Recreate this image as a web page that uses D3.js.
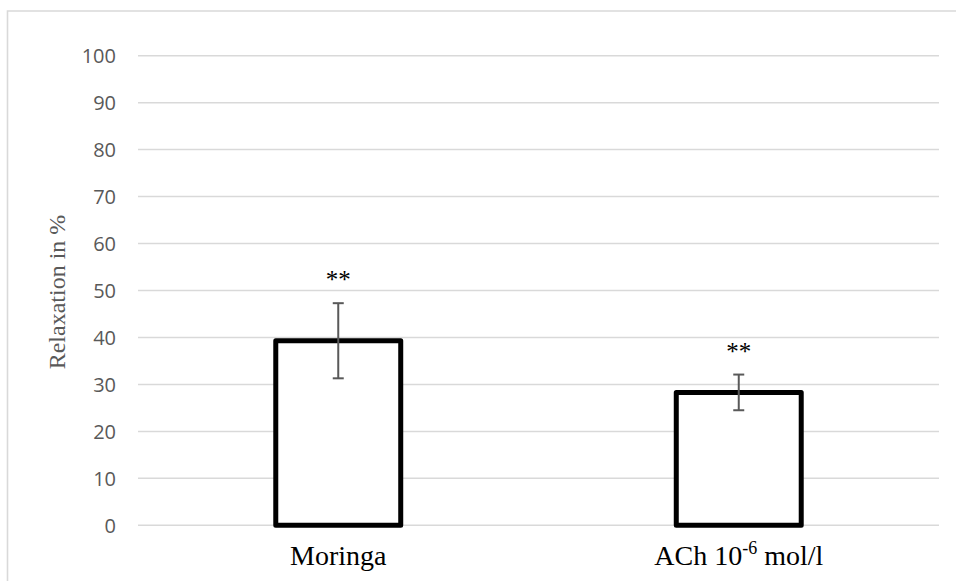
<!DOCTYPE html>
<html>
<head>
<meta charset="utf-8">
<script src="https://cdn.jsdelivr.net/npm/d3@7"></script>
<style>
  html, body { margin: 0; padding: 0; background: #fff; }
  svg { display: block; }
</style>
</head>
<body>
<svg id="chart" width="956" height="581"></svg>
<script>
// Relaxation response per treatment (mean ± error)
const categories = ["Moringa", "ACh"];
const relaxation = [39.3, 28.3];
const errors = [8.0, 3.8];
const significance = ["**", "**"];
const yTicks = [0, 10, 20, 30, 40, 50, 60, 70, 80, 90, 100];

const svg = d3.select("#chart");
const W = 956, H = 581;

const plot = { left: 138, right: 939, top: 55.7, bottom: 525.3 };

const x = d3.scaleBand()
  .domain(categories)
  .range([plot.left, plot.right])
  .paddingInner(0.688)
  .paddingOuter(0.344);

const y = d3.scaleLinear()
  .domain([0, 100])
  .range([plot.bottom, plot.top]);

// Outer frame (top and left edges visible)
svg.append("path")
  .attr("d", `M7.5,${H + 5} L7.5,11 L${W + 5},11`)
  .attr("fill", "none")
  .attr("stroke", "#d9d9d9")
  .attr("stroke-width", 1.6);

// Horizontal gridlines
svg.append("g")
  .selectAll("line")
  .data(yTicks)
  .join("line")
  .attr("x1", plot.left)
  .attr("x2", plot.right)
  .attr("y1", d => y(d))
  .attr("y2", d => y(d))
  .attr("stroke", "#d9d9d9")
  .attr("stroke-width", 1.5);

// Y axis labels
const yAxis = d3.axisLeft(y).tickValues(yTicks).tickSize(0).tickPadding(0);
const yg = svg.append("g")
  .attr("transform", `translate(116,0)`)
  .call(yAxis);
yg.select(".domain").remove();
yg.selectAll("text")
  .attr("font-family", "'Open Sans', sans-serif")
  .attr("font-size", 20)
  .attr("fill", "#595959")
  .attr("dy", "0.35em");

// Y axis title
svg.append("text")
  .attr("transform", `translate(65,292) rotate(-90)`)
  .attr("text-anchor", "middle")
  .attr("font-family", "'Liberation Serif', 'Times New Roman', serif")
  .attr("font-size", 24)
  .attr("fill", "#595959")
  .text("Relaxation in %");

// Bars
const barW = x.bandwidth();
svg.append("g")
  .selectAll("rect")
  .data(categories)
  .join("rect")
  .attr("x", d => x(d))
  .attr("y", (d, i) => y(relaxation[i]))
  .attr("width", barW)
  .attr("height", (d, i) => y(0) - y(relaxation[i]))
  .attr("fill", "#fff")
  .attr("stroke", "#000")
  .attr("stroke-width", 5)
  .attr("stroke-linejoin", "round");

// Error bars
const eg = svg.append("g")
  .attr("stroke", "#595959")
  .attr("stroke-width", 2);
categories.forEach((c, i) => {
  const cx = x(c) + barW / 2;
  const hi = y(relaxation[i] + errors[i]);
  const lo = y(relaxation[i] - errors[i]);
  eg.append("line").attr("x1", cx).attr("x2", cx).attr("y1", hi).attr("y2", lo);
  eg.append("line").attr("x1", cx - 5.5).attr("x2", cx + 5.5).attr("y1", hi).attr("y2", hi);
  eg.append("line").attr("x1", cx - 5.5).attr("x2", cx + 5.5).attr("y1", lo).attr("y2", lo);
});

// Significance markers
svg.append("g")
  .selectAll("text")
  .data(categories)
  .join("text")
  .attr("x", d => x(d) + barW / 2)
  .attr("y", (d, i) => y(relaxation[i] + errors[i]) - 15)
  .attr("text-anchor", "middle")
  .attr("font-family", "'Liberation Serif', 'Times New Roman', serif")
  .attr("font-size", 25)
  .attr("fill", "#000")
  .text((d, i) => significance[i]);

// Category labels
const serif = "'Liberation Serif', 'Times New Roman', serif";
const lab = svg.append("g")
  .attr("font-family", serif)
  .attr("font-size", 28)
  .attr("fill", "#000")
  .attr("text-anchor", "middle");

lab.append("text")
  .attr("x", x("Moringa") + barW / 2)
  .attr("y", 565)
  .text("Moringa");

const ach = lab.append("text")
  .attr("x", x("ACh") + barW / 2)
  .attr("y", 565);
ach.append("tspan").text("ACh 10");
ach.append("tspan").attr("font-size", 18).attr("dy", -11).text("-6");
ach.append("tspan").attr("dy", 11).text(" mol/l");
</script>
</body>
</html>
